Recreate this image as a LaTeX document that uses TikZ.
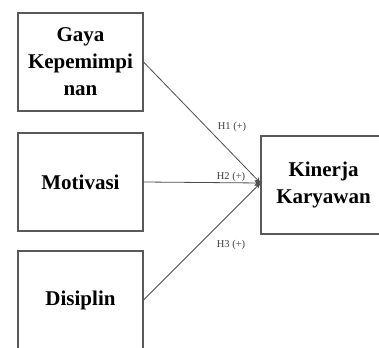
\documentclass[tikz,border=0pt]{standalone}
\usepackage{fontspec}
\setmainfont{Liberation Serif}
\usetikzlibrary{positioning,arrows.meta}

\begin{document}
\begin{tikzpicture}[x=1pt,y=-1pt,
	var/.style={draw=black!65, line width=1.1pt, fill=white, minimum width=125pt, minimum height=98pt,
		inner sep=0pt, align=center, font=\fontsize{21}{27}\selectfont\bfseries},
	link/.style={draw=black!70, line width=0.8pt, -{Stealth[length=6pt,width=5pt]}},
	hyp/.style={font=\fontsize{10.5}{12}\selectfont, text=black!75, inner sep=0pt}]
		\useasboundingbox[fill=white] (0,0) rectangle (379,347);
		\def\colx{80.5}
	\node[var] (gaya) at (\colx,62) {Gaya\\Kepemimpi\\nan};
	\node[var] (moti) at (\colx,182) {Motivasi};
	\node[var] (disi) at (\colx,300) {Disiplin};
	\node[var] (kine) at (323.5,185) {Kinerja\\Karyawan};

		\coordinate (tip) at ([yshift=2pt]kine.west);

	\draw[link] (gaya.east) -- (tip);
	\draw[link] (moti.east) -- (tip);
	\draw[link] (disi.east) -- (tip);

		\node[hyp] (h1) at (232,127) {H1 (+)};
		\node[hyp] (h2) at (231,177) {H2 (+)};
		\node[hyp] (h3) at (231,245) {H3 (+)};
\end{tikzpicture}
\end{document}
